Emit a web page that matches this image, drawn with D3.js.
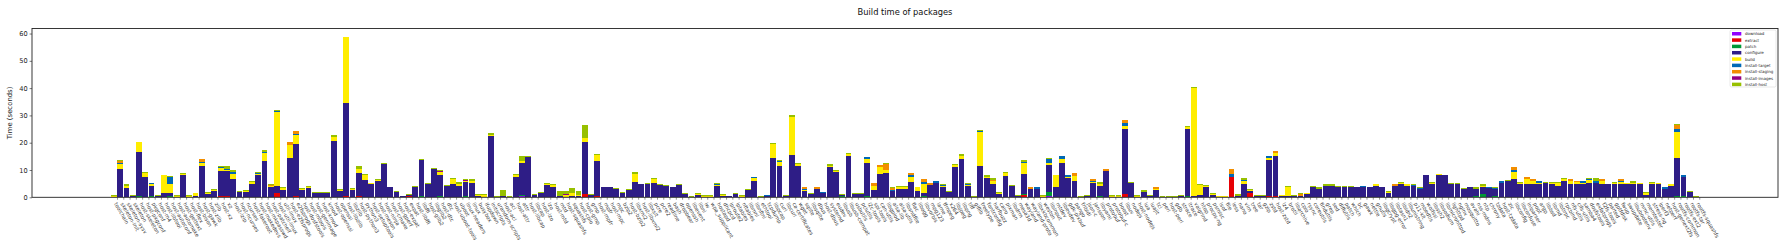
<!DOCTYPE html>
<html>
<head>
<meta charset="utf-8">
<script src="https://cdn.jsdelivr.net/npm/d3@7"></script>
<style>
  body { margin: 0; background: #fff; }
  svg { display: block; font-family: "DejaVu Sans", sans-serif; }
</style>
</head>
<body>
<svg></svg>
<script>
var width = 1790;
var height = 247;

var steps = ["download", "extract", "patch", "configure", "build",
  "install-target", "install-staging", "install-images", "install-host"];

var stepColors = ["#9000ff", "#e60004", "#009836", "#2e1d86", "#ffed00",
  "#0068b5", "#f28e00", "#940084", "#97c000"];

var packages = [
  "toolchain", "skeleton-init", "skeleton-sysv", "skeleton", "host-skeleton", "host-pkgconf", "pkgconf", "host-m4", "host-libtool", "host-autoconf",
  "host-automake", "host-gettext", "host-flex", "host-bison", "host-gawk", "host-zlib", "zlib", "host-xz", "xz", "host-lzip",
  "host-ncurses", "ncurses", "host-fakeroot", "host-makedevs", "host-mkpasswd", "host-patchelf", "host-util-linux", "util-linux", "host-e2fsprogs", "e2fsprogs",
  "host-dosfstools", "host-mtools", "host-genimage", "host-kmod", "kmod", "host-openssl", "openssl", "host-libzlib", "libzlib", "host-python3",
  "python3", "host-setuptools", "host-meson", "host-ninja", "host-cmake", "host-gperf", "host-expat", "expat", "host-libffi", "libffi",
  "host-glib2", "libglib2", "host-dtc", "dtc", "host-uboot-tools", "uboot", "linux-headers", "linux", "busybox", "ifupdown",
  "initscripts", "urandom-scripts", "host-acl", "acl", "host-attr", "attr", "host-libcap", "libcap", "host-lzo", "lzo",
  "host-mtd", "mtd", "host-squashfs", "squashfs", "host-cpio", "host-gmp", "gmp", "host-mpfr", "mpfr", "host-mpc",
  "mpc", "bzip2", "host-bzip2", "libxml2", "host-libxml2", "libxslt", "pcre", "pcre2", "readline", "bash",
  "dropbear", "openssh", "libevent", "libnl", "iw", "wpa_supplicant", "hostapd", "dhcpcd", "iproute2", "iptables",
  "nftables", "libmnl", "libnftnl", "ethtool", "tcpdump", "libpcap", "curl", "libcurl", "ca-certificates", "wget",
  "sqlite", "libsqlite", "dbus", "host-dbus", "systemd", "eudev", "libusb", "libusb-compat", "usbutils", "pciutils",
  "i2c-tools", "spi-tools", "can-utils", "libgpiod", "alsa-lib", "alsa-utils", "libsndfile", "flac", "libogg", "libvorbis",
  "mpg123", "lame", "ffmpeg", "x264", "libjpeg", "libpng", "tiff", "giflib", "freetype", "fontconfig",
  "harfbuzz", "cairo", "pixman", "libdrm", "mesa3d", "wayland", "wayland-proto", "libxkbcommon", "weston", "libinput",
  "mtdev", "libevdev", "gdk-pixbuf", "pango", "fribidi", "json-c", "jansson", "libyaml", "protobuf", "protobuf-c",
  "boost", "libuv", "nodejs", "host-nodejs", "lua", "luajit", "tcl", "perl", "host-perl", "gdb",
  "strace", "ltrace", "valgrind", "htop", "procps-ng", "psmisc", "lsof", "file", "less", "nano",
  "vim", "tree", "tar", "gzip", "zstd", "host-zstd", "lz4", "brotli", "libarchive", "cpio",
  "rsync", "coreutils", "findutils", "grep", "sed", "diffutils", "patch", "which", "bc", "gawk",
  "nettle", "gnutls", "libgcrypt", "libgpg-error", "libtasn1", "libidn2", "libunistring", "p11-kit", "mbedtls", "wolfssl",
  "libssh2", "libsodium", "libmicrohttpd", "lighttpd", "nginx", "mosquitto", "avahi", "nss-mdns", "ntp", "chrony",
  "tzdata", "host-tzdata", "zic", "libconfig", "libconfuse", "iniparser", "popt", "argp", "libbsd", "libmd",
  "libtirpc", "rpcbind", "nfs-utils", "cifs-utils", "samba4", "dosfstools", "exfatprogs", "f2fs-tools", "parted", "gptfdisk",
  "fwup", "swupdate", "libubootenv", "mmc-utils", "memtester", "stress-ng", "iperf3", "netperf", "host-genext2fs", "rootfs-common",
  "rootfs-ext2", "rootfs-tar", "rootfs-squashfs"
];

// seconds spent in each step, one value per package
var download = [
  0,0,0,0,0,0,0,0,0,0, 0,0,0,0,0,0,0,0,0,0, 0,0,0,0,0,0,0,0,0,0, 0,0,0,0,0,0,0,0,0,0,
  0,0,0,0,0,0,0,0,0,0, 0,0,0,0,0,0,0,0,0,0, 0,0,0,0,0,0.3,0,0,0,0, 0,0,0,0,0,0,0,0,0,0,
  0,0,0,0,0,0,0,0,0,0, 0,0,0,0,0,0,0,0,0,0, 0,0,0,0,0,0,0,0,0,0, 0,0,0,0,0,0,0,0,0,0,
  0,0,0,0,0,0,0,0,0,0, 0,0,0,0,0,0,0,0,0,0, 0,0,0,0,0,0,0,0,0,0.3, 0,0,0,0,0,0,0,0,0,0,
  0,0,0,0,0,0,0,0,0,0, 0,0,0,0,0,0,0,0,0.2,0, 0,0,0,0,0,0,0,0,0,0, 0,0,0,0,0,0,0,0,0,0,
  0,0,0,0,0,0,0,0,0,0, 0,0,0,0,0,0,0,0,0,0, 0,0,0,0,0,0,0,0,0,0, 0,0,0,0,0,0,0,0,0,0,
  0,0,0,0,0,0,0,0,0,0, 0,0,0
];
var extract = [
  0,0,0,0,0,0,0,0,0,0, 0,0,0,0,0,0,0,0.4,0.4,0, 0,0,0,0,0,0,1.5,0,0,0.4, 0,0,0,0,0,0,0,0.4,0,0.4,
  0,0,0,0,0,0,0,0.6,0,0, 0,0,0,0,0,0,0,0,0,0, 0,0,0,0,0,0.2,0,0,0,0, 0,0,0,0,0,1.2,0,0.5,0,0,
  0,0,0,0,0,0,0,0,0,0, 0,0,0,0,0,0,0,0,0,0, 0,0,0,0,0,0,0,0,0,0, 0,0,0,0,0,0,0,0,0,0,
  0,0,0,0,0,0,0,0,0,0, 0,0,0,0,0,0,0,0,0,0, 0,0,0,0,0,1.0,0,0,0,0, 0,0,0,0,0,0,0,0,0,0,
  0,1.3,0,0,0,0,0,0,0,0, 0,0,0,0,0,0,0,0,7.1,0, 0,1.7,0,0,0.5,0.5,0,0,0,0, 0,0,0,0,0,0,0,0,0,0,
  0,0,0,0,0,0,0,0,0,0, 0,0,0,0,0,0,0,0,0,0, 0,0,0,0,0,0,0,0,0,0, 0,0,0,0,0,0,0,0,0,0,
  0,0,0,0,0,0,0,0,0,0, 0,0,0
];
var patch = [
  0,0,0,0,0.4,0,0.3,0,0,0.3, 0,0,0,0,0,0,0,0,0,0, 0,0,0,0,0,0,0,0,0,0, 0,0,0,0,0,0,0,0,0,0,
  0,0,0,0,0,0,0.2,0,0,0.4, 0,0,0.3,0,0,0,0.3,0,0,0, 0,0,0,0.2,0,0.5,0,0,0,0, 0,0,0,0,0,0,0,0,0,0,
  0,0,0,0,0,0,0,0,0,0, 0,0,0,0,0,0,0,0,0,0, 0,0,0,0,0,0,0,0,0,0, 0,0,0,0,0,0,0.3,0,0,0,
  0.3,0,0,0,0,0,0,0,0,0.4, 0,0,0,0,0,0,0,0,0,0, 0,0,0,0,0,0.3,0,0,0,1.5, 0,0,0,0,0,0,0,0.3,0,0,
  0,0,0,0,0,0,0,0,0,0, 0,0.3,0,0,0,0,0,0,0,0, 0,0,0,0,0,0,0,0,0,0, 0,0,0,0,0,0,0,0,0,0,
  0,0,0,0,0,0,0,0,0,0, 0,0,0,0,0,0,0,0.3,1.3,0, 0.3,0,0,0,0,0,0,0,0,0, 0,0,0,0,0,0,0,0,0,0,
  0,0,0,0,0,0,0,0,0,0.3, 0.4,0,0
];
var configure = [
  0.1,10.4,3.4,0.45,16.3,7.5,3.9,0.4,1.6,1.3, 0,8.2,0,0.5,11.5,1.2,2.4,9.3,9.3,6.7, 2.1,2.0,4.9,8.2,13.4,3.6,2.7,2.5,14.5,19.2, 2.5,3.4,1.7,1.7,1.7,20.7,2.3,34.3,2.5,8.5,
  6.4,4.7,6.0,12.3,3.6,2.0,0.1,0.3,3.8,13.1, 4.7,10.4,7.9,4.3,4.9,4.2,5.3,5.3,0.5,0.2, 22.5,0.1,0.6,0,7.6,11.6,14.8,0.9,1.6,4.5, 3.8,0.6,0.1,0.6,0.5,19.1,0.9,12.9,3.6,3.6,
  3.1,1.7,2.8,5.6,4.7,4.7,5.3,4.5,4.2,3.6, 4.5,1.2,0.2,0.9,0,0,4.2,0.6,0.3,1.2, 0.1,2.7,6.0,0.1,0.4,14.5,11.3,0.6,15.6,11.6, 2.3,1.3,2.9,1.7,11.2,9.3,0.7,15.0,1.3,1.3,
  12.3,2.7,8.6,8.9,2.2,3.2,3.2,5.5,2.3,1.2, 4.5,5.4,3.6,2.0,11.2,14.0,4.2,0.1,11.5,7.1, 4.9,1.2,7.8,4.2,0.4,7.3,3.1,3.1,0,10.1, 3.8,12.6,7.1,6.0,0.1,0.4,5.3,4.0,9.8,0,
  0,23.6,5.3,0,2.1,0.6,2.8,0.1,0.1,0.1, 0.5,24.9,0.5,1.0,3.8,1.0,0,0,0,0.6, 5.0,0.6,0.6,0.6,13.1,14.8,0.4,0.4,0.5,0.3, 1.1,3.8,3.2,4.3,4.3,3.8,3.8,3.8,3.6,3.8,
  3.6,4.3,3.6,1.6,4.3,4.8,4.3,4.3,3.1,8.0, 4.7,8.0,8.0,5.0,5.0,3.1,3.6,2.9,2.5,3.3, 2.8,5.4,5.9,6.7,4.7,5.0,5.0,4.7,5.3,4.7, 4.3,6.0,5.0,5.0,4.7,5.4,5.4,4.7,4.7,4.7,
  5.0,4.7,4.7,4.7,1.0,4.7,4.7,3.1,4.3,14.2, 7.1,2.0,0.2
];
var build = [
  0.55,1.9,0.9,0.1,3.4,1.3,0.5,0.1,6.5,3.4, 0.55,0.5,0.55,1.0,1.1,0.5,0.4,1.1,0.3,1.8, 0,0.3,0.7,0.4,2.8,0.4,27.2,0.8,4.5,3.2, 0.6,0.5,0,0,0,1.5,0.5,23.9,0.6,1.6,
  1.8,0.4,0.5,0,0,0,0,0,0,0, 0,0,1.0,0,1.7,0.7,0.3,0.6,0.5,0.5, 0.4,0,0,0,0.6,0.8,0,0,0,0.4, 0.6,0,0.7,1.0,0.2,1.5,0,2.0,0,0,
  0,0,0,3.0,0,0.3,1.4,0,0,0, 0,0,0,0.3,0.5,0.5,0.3,0.4,0,0, 0.5,0,1.0,0,0,5.1,1.7,0,13.9,0.7, 0.4,0,0,0,0.4,0.5,0,0.9,0,0,
  1.4,1.6,2.6,1.1,0,0.4,0.4,2.0,1.3,3.1, 0,0,0.4,0,0.6,1.2,0.4,0,12.5,0.5, 0.9,0.5,1.1,0,0,3.9,0,0,0.5,0.7, 4.3,1.6,0.5,1.8,0,0,0.4,0.7,0,0.6,
  0.6,1.1,0,0.5,0,0,0.4,0,0,0, 0,0.7,39.5,3.5,0.5,0.3,0.3,0.3,0,0, 1.1,0.5,0,0,0.9,1.0,0.3,3.5,0,0.3, 0.4,0,0,0,0,0,0,0,0,0,
  0,0.4,0,0.5,0,0.4,0.5,0,0,0, 0.6,0.4,0,0,0,0,0,0,0.5,0, 0,0,0,2.5,0.5,1.7,0.8,0.6,0,0.5, 0.8,0.7,0.8,0.5,0.6,0.9,0,1.1,0,0.5,
  0.6,0.5,0.6,0.4,0.5,0.5,0.4,0,0.4,9.6, 0,0,0
];
var installTarget = [
  0,0.2,0,0,0,0,0.4,0,0,2.5, 0,0,0,0,0.4,0,0,0.3,0.5,0.8, 0,0,0,0.3,0.3,0,0.2,0,0.3,0.4, 0,0,0,0,0,0,0,0,0,0,
  0,0,0,0,0,0,0,0,0,0, 0,0,0,0,0,0,0,0,0,0, 0,0,0,0,0,0,0,0,0,0, 0,0,0,0,0,0,0,0,0,0,
  0,0,0,0,0,0,0,0,0,0, 0,0,0,0,0,0,0.4,0,0,0, 0,0,0.4,0,0.3,0,0.4,0,0,0, 0.3,0,0.3,0.1,0,0,0,0,0,0,
  0.6,0,0,0,0.4,0,0,0.6,0,0.9, 0,0.4,0.4,0,0,0,0.3,0,0.4,0, 0,0,0,0,0,0.6,0,0.5,0,1.4, 0,0.8,0.4,0,0,0,0.2,0,0,0,
  0,1.1,0,0,0,0,0,0,0,0, 0,0,0,0,0,0,0,0,1.2,0, 0.4,0,0,0,0.5,0,0,0,0,0, 0,0,0,0,0,0,0,0,0,0.2,
  0,0,0,0,0,0,0,0.3,0.4,0, 0,0,0,0,0,0,0,0,0,0.3, 0.3,0.4,0.2,0.8,0,0,0.3,0.5,0,0, 0,0,0.3,0,0.6,0.3,0.7,0,0,0,
  0.4,0,0,0,0,0,0,0.5,0,1.0, 0.6,0,0
];
var installStaging = [
  0,0.9,0,0,0,0,0,0,0,0, 0,0,0,0,1.0,0,0,0,0,0, 0,0,0,0,0,0.5,0,0,0.9,1.2, 0,0,0,0,0,0,0,0,0,0,
  0,0,0,0,0,0,0,0,0,0, 0,0,0,0,0,0,0,0,0,0, 0,0,0,0,0,0,0,0,0,0, 0,0,0,0,0,0,0,0,0,0,
  0,0,0,0,0,0,0,0,0,0, 0,0,0,0,0,0,0,0,0,0, 0,0,0,0,0,0,0,0,0,0, 0.8,0,0.6,0,0,0,0,0,0,0,
  0,0.8,0.6,2.1,0.9,0,0,0.7,0,1.0, 0.8,0,0,0,0,0,0,0,0,0, 0.6,0,0,0,0,0,0.7,0,0,0, 0,0,0,1.1,0,0,0.8,0,0.6,0,
  0,1.1,0,0,0,0,0.6,0,0,0, 0,0,0,0,0,0,0,0,1.8,0, 0,0,0,0,0,0.7,0,0,0,0.6, 0,0,0,0,0,0,0,0,0,0,
  0,0,0,0,0.6,0,0,0,0,0, 0,0,0,0,0,0,0,0,0,0, 0,0,0,1.2,0,0.8,0.6,0,0,0, 0,0,0.5,0.5,0,0,0,0.9,0,0,
  0.7,0,0,0,0,0,0,0,0,1.4, 0,0,0
];
var installImages = [
  0,0,0,0,0,0,0,0,0,0, 0,0,0,0,0,0,0,0,0,0, 0,0,0,0,0,0,0,0,0,0, 0,0,0,0,0,0,0,0,0,0,
  0,0,0,0,0,0,0,0,0,0.3, 0.3,0,0.3,0,0,0,0.4,0,0,0, 0,0,0,0,0,0,0,0,0,0, 0,0,0.3,0,0,0,0,0,0,0,
  0,0,0,0,0,0,0,0,0,0, 0,0,0,0,0,0,0,0,0,0, 0,0,0,0,0,0,0,0,0,0, 0,0,0,0,0,0,0,0,0,0,
  0,0,0,0,0,0,0,0,0,0, 0,0,0,0,0,0,0,0,0,0, 0,0,0,0,0,0,0,0,0,0, 0,0,0,0,0,0,0,0,0,0,
  0,0,0,0,0,0,0,0,0,0, 0,0,0,0,0,0,0,0,0,0, 0,0,0,0,0,0,0,0,0,0, 0,0,0,0,0,0,0,0,0,0,
  0,0,0,0,0,0,0,0,0,0, 0,0,0,0,0,0,0,0,0,0, 0,0,0,0,0,0,0,0,0,0, 0,0,0,0,0,0,0,0,0,0,
  0,0,0,0,0,0,0,0,0,0, 0,0,0
];
var installHost = [
  0.2,0.2,0.6,0.3,0.3,0.5,0.2,0.25,0.15,0.3, 0.2,0.2,0.25,0.2,0,0.3,0.3,0.5,0.8,0.7, 0.2,0.4,0.4,0.3,0.9,0.2,0.5,0.3,0,0, 0.3,0.3,0.3,0.3,0.3,0.7,0.3,0.3,0.3,1.1,
  0.4,0.3,0.2,0.3,0.2,0.2,0.2,0.3,0.4,0.3, 0.3,0.4,0.5,0.2,0.5,0.6,0.4,0.7,0.3,0.6, 0.5,0.5,2.1,0.4,0.5,1.6,0.4,0.3,0.4,0.4, 0.5,1.7,1.2,1.8,1.6,4.8,0.3,0.3,0.2,0.2,
  0.3,0.4,0.3,0.7,0.3,0.3,0.4,0.4,0.3,0.3, 0.4,0.4,0.4,0.4,0.4,0.4,0.4,0.3,0.3,0.4, 0.4,0.4,0.2,0.4,0.3,0.4,0.3,0.4,0.5,0.4, 0,0.3,0,0.3,0.7,0.2,0.3,0.4,0.3,0.3,
  0.2,0,0,0.4,0.2,0.4,0.6,0,0.3,0, 0,0.2,0.3,0.3,0.5,0.7,0.2,0.4,0.4,0.4, 0.7,0.4,0.4,0.3,0.5,0.5,0,0.2,0.4,0.5, 0.2,0.2,0.3,0,0.4,0.6,0,0.6,0,0.4,
  0.4,0,0.3,0.4,0.4,0.4,0,0.4,0.4,0.4, 0.4,0.3,0.3,0.4,0.2,0.4,0.3,0.3,0.2,0.5, 0.6,0.4,0.4,0.4,0.2,0,0.3,0.4,0.4,0.3, 0.2,0.5,0.4,0.4,0.4,0.5,0.5,0.5,0.2,0.3,
  0.2,0.3,0.2,0.2,0,0.4,0.2,0.3,0.2,0.3, 0.2,0.3,0.3,0.3,0.3,0.3,0.3,0.4,0.4,0.2, 0.2,0.2,0.3,0,0.4,0,0,0.2,0.3,0.4, 0.5,0.4,0,0,0,0.5,1.0,0,0.3,0.4,
  0,0.2,0.5,0.2,0.5,0.4,0.2,0.2,0.3,0.5, 0.2,0.3,0.3
];

var stepValues = [download, extract, patch, configure, build,
  installTarget, installStaging, installImages, installHost];

var rows = packages.map(function(name, i) {
  var row = { name: name, index: i };
  steps.forEach(function(step, s) { row[step] = stepValues[s][i] || 0; });
  return row;
});

var margin = { left: 32, right: 12, top: 28.5, bottom: 49.7 };
var plotRight = width - margin.right;
var plotBottom = height - margin.bottom;

var series = d3.stack().keys(steps)(rows);
var maxTotal = d3.max(series[series.length - 1], d => d[1]);

// bars centred at i + 0.1 with width 0.8 in data units, 5% margins either side
var dataMin = -0.3;
var dataMax = packages.length - 1 + 0.5;
var pad = (dataMax - dataMin) * 0.05;
var x = d3.scaleLinear()
    .domain([dataMin - pad, dataMax + pad])
    .range([margin.left, plotRight]);

var y = d3.scaleLinear()
    .domain([0, maxTotal * 1.05])
    .range([plotBottom, margin.top]);

var color = d3.scaleOrdinal().domain(steps).range(stepColors);

var svg = d3.select("svg")
    .attr("width", width)
    .attr("height", height);

svg.append("rect")
    .attr("width", width)
    .attr("height", height)
    .attr("fill", "#fff");

var barWidth = 0.93;
svg.append("g")
  .selectAll("g")
  .data(series)
  .enter()
  .append("g")
    .attr("fill", d => color(d.key))
  .selectAll("rect")
  .data(d => d.filter(v => v[1] - v[0] > 0))
  .enter()
  .append("rect")
    .attr("shape-rendering", "crispEdges")
    .attr("x", d => x(d.data.index + 0.1 - barWidth / 2))
    .attr("width", x(barWidth) - x(0))
    .attr("y", d => y(d[1]))
    .attr("height", d => y(d[0]) - y(d[1]));

// y axis
var yAxis = d3.axisLeft(y)
    .tickValues([0, 10, 20, 30, 40, 50, 60])
    .tickSize(2.4)
    .tickPadding(2);

svg.append("g")
    .attr("transform", "translate(" + margin.left + ",0)")
    .call(yAxis)
    .call(g => g.select(".domain").remove())
    .call(g => g.selectAll("line").attr("stroke", "#222").attr("stroke-width", 0.6))
    .call(g => g.selectAll("text")
      .attr("fill", "#222")
      .style("font-size", "6.6px")
      .style("font-family", "DejaVu Sans"));

// x axis with package names
var xAxis = d3.axisBottom(x)
    .tickValues(d3.range(packages.length).map(i => i + 0.6))
    .tickSize(2.4)
    .tickFormat((d, i) => packages[i]);

svg.append("g")
    .attr("transform", "translate(0," + plotBottom + ")")
    .call(xAxis)
    .call(g => g.select(".domain").remove())
    .call(g => g.selectAll("line").attr("stroke", "#222").attr("stroke-width", 0.5))
    .call(g => g.selectAll("text")
      .attr("fill", "#333")
      .attr("y", 0)
      .attr("dy", 0)
      .attr("text-anchor", "start")
      .attr("dominant-baseline", "hanging")
      .attr("transform", "translate(0,4.5) rotate(60)")
      .style("font-size", "5.2px")
      .style("font-family", "DejaVu Sans"));

// frame
svg.append("rect")
    .attr("x", margin.left)
    .attr("y", margin.top)
    .attr("width", plotRight - margin.left)
    .attr("height", plotBottom - margin.top)
    .attr("fill", "none")
    .attr("stroke", "#222")
    .attr("stroke-width", 0.9);

svg.append("text")
    .attr("x", (margin.left + plotRight) / 2)
    .attr("y", 15)
    .attr("text-anchor", "middle")
    .attr("fill", "#111")
    .style("font-size", "8.3px")
    .text("Build time of packages");

svg.append("text")
    .attr("transform", "translate(12," + ((margin.top + plotBottom) / 2) + ") rotate(-90)")
    .attr("text-anchor", "middle")
    .attr("fill", "#222")
    .style("font-size", "6.9px")
    .text("Time (seconds)");

// legend
var legend = svg.append("g")
    .attr("transform", "translate(1730,30)");

legend.append("rect")
    .attr("width", 46)
    .attr("height", 57)
    .attr("rx", 1.5)
    .attr("fill", "#fff")
    .attr("fill-opacity", 0.8)
    .attr("stroke", "#d0d0d0")
    .attr("stroke-width", 0.5);

var items = legend.selectAll(".item")
  .data(steps)
  .enter()
  .append("g")
    .attr("transform", (d, i) => "translate(2," + (2 + i * 6.33) + ")");

items.append("rect")
    .attr("width", 9.3)
    .attr("height", 3.5)
    .attr("fill", d => color(d));

items.append("text")
    .attr("x", 13)
    .attr("y", 3.3)
    .attr("fill", "#222")
    .style("font-size", "4px")
    .text(d => d);
</script>
</body>
</html>
